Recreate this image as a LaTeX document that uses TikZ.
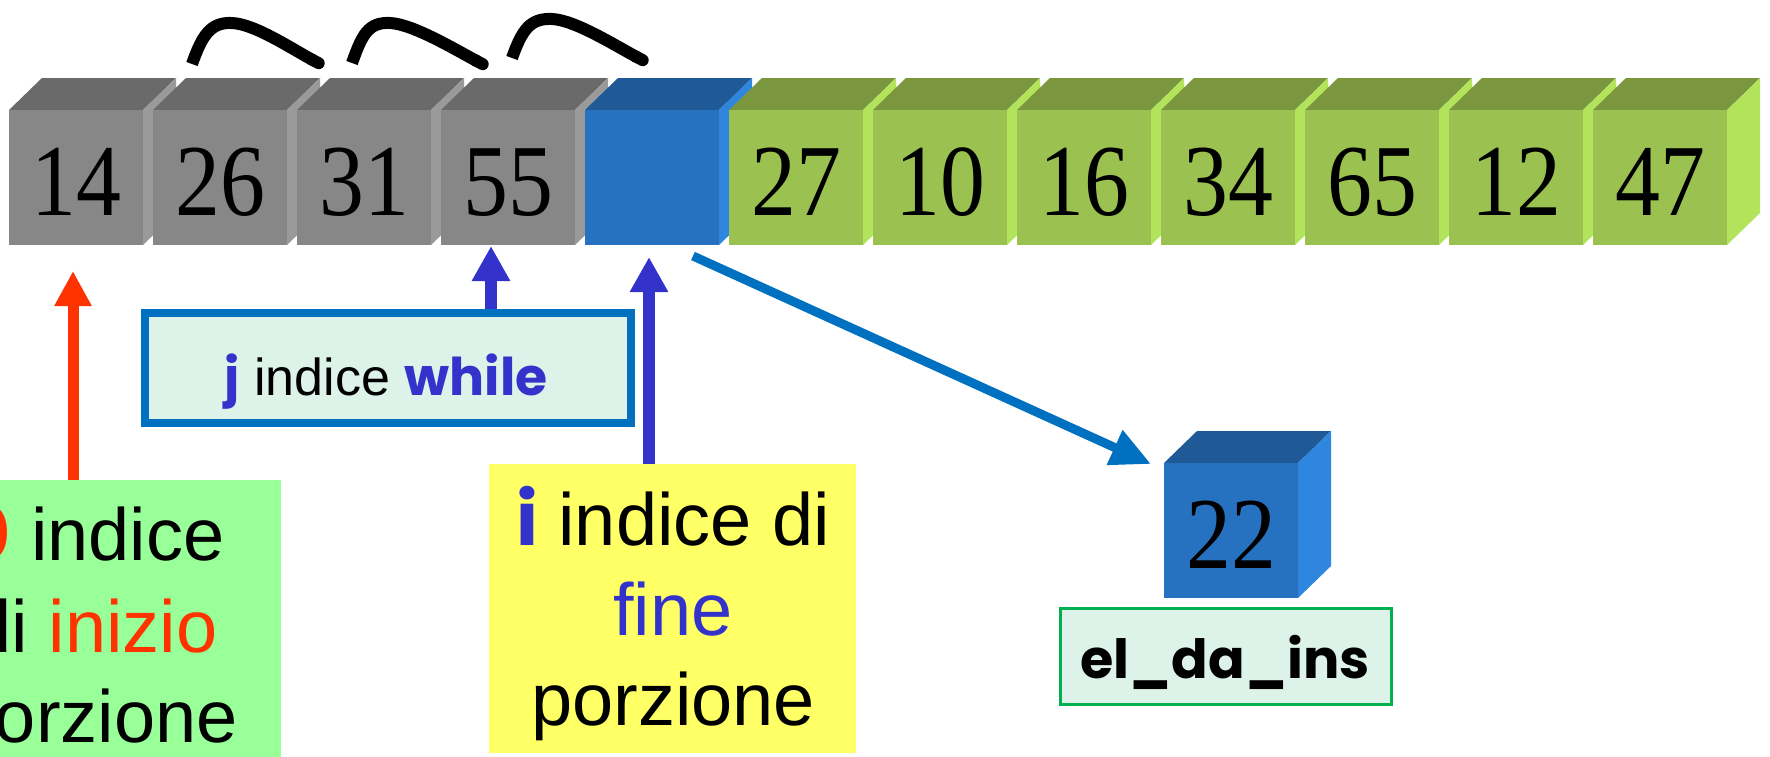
\documentclass[tikz,border=0pt]{standalone}
\usepackage{fontspec}
\setmainfont{Liberation Sans}
\newfontfamily\numfont{Liberation Serif}
\newfontfamily\comicf{Poppins}
\usetikzlibrary{arrows.meta}
\definecolor{grayF}{HTML}{878787}
\definecolor{grayT}{HTML}{6A6A6A}
\definecolor{grayS}{HTML}{9A9A9A}
\definecolor{blueF}{HTML}{2772C0}
\definecolor{blueT}{HTML}{1F5A96}
\definecolor{blueS}{HTML}{2E86DE}
\definecolor{greenF}{HTML}{9BC250}
\definecolor{greenT}{HTML}{7A963E}
\definecolor{greenS}{HTML}{B3E35A}
\definecolor{jblue}{HTML}{3333CC}
\definecolor{redarr}{HTML}{FF3300}
\definecolor{linkblue}{HTML}{0070C0}
\definecolor{mint}{HTML}{DDF2E8}
\definecolor{lgreen}{HTML}{99FF99}
\definecolor{lyellow}{HTML}{FFFF66}
\definecolor{boxgreen}{HTML}{00B050}
\newcommand\mycube[5]{%
  \fill[#3T] (#1,#2) -- ++(33,-32) -- ++(134,0) -- ++(-33,32) -- cycle;
  \fill[#3S] ({#1+134},#2) -- ++(33,-32) -- ++(0,135) -- ++(-33,32) -- cycle;
  \fill[#3F] (#1,#2) rectangle ++(134,135);
  \node[num] (#4) at ({#1+67},{#2+105}) {\scalebox{0.88}[1]{#5}};
}
\begin{document}
\begin{tikzpicture}[x=0.5pt,y=-0.5pt,
  num/.style={inner sep=0pt, anchor=base, font=\numfont\fontsize{51}{51}\selectfont},
  lbl/.style={inner sep=0pt, anchor=base, font=\fontsize{37}{37}\selectfont},
  smalllbl/.style={inner sep=0pt, anchor=base, font=\fontsize{26}{26}\selectfont},
  arcline/.style={line width=6pt, line cap=butt, -{Round Cap[]}},
  upred/.style={redarr, line width=5.5pt, -{Triangle[length=17.5pt,width=17.5pt]}},
  upblue/.style={jblue, line width=6pt, -{Triangle[length=17.5pt,width=18pt]}},
  diag/.style={linkblue, line width=4.5pt, -{Triangle[length=20pt,width=18pt]}}]
\useasboundingbox (0,0) rectangle (1770,756);
\clip (0,0) rectangle (1770,756);
\fill[white] (0,0) rectangle (1770,756);
% boxes
\node[fill=lgreen, inner sep=0pt, minimum width=190.5pt, minimum height=160pt] (inizio) at (90.5,640) {};
\node[fill=lyellow, inner sep=0pt, minimum width=183.5pt, minimum height=144.5pt] (fine) at (672.5,608.5) {};
\node[draw=linkblue, line width=4pt, fill=mint, inner sep=0pt, minimum width=243pt, minimum height=55pt] (jbox) at (388,368) {};
\node[draw=boxgreen, line width=1.5pt, fill=mint, inner sep=0pt, minimum width=165.5pt, minimum height=48pt] (elbox) at (1226,656.5) {};
% cubes
\mycube{9}{110}{gray}{c1}{14}
\mycube{153}{110}{gray}{c2}{26}
\mycube{297}{110}{gray}{c3}{31}
\mycube{441}{110}{gray}{c4}{55}
\mycube{585}{110}{blue}{c5}{}
\mycube{729}{110}{green}{c6}{27}
\mycube{873}{110}{green}{c7}{10}
\mycube{1017}{110}{green}{c8}{16}
\mycube{1161}{110}{green}{c9}{34}
\mycube{1305}{110}{green}{c10}{65}
\mycube{1449}{110}{green}{c11}{12}
\mycube{1593}{110}{green}{c12}{47}
\mycube{1164}{463}{blue}{c22}{22}
% arcs
\coordinate (a1s) at (192,64); \coordinate (a1e) at (324,66);
\coordinate (a2s) at (352,63); \coordinate (a2e) at (488,67);
\coordinate (a3s) at (512,58); \coordinate (a3e) at (648,63);
\draw[arcline] (a1s) .. controls +(10,-28) and +(-22,-1) .. ++(40,-41) .. controls +(23,1) and +(-32,-17) .. (a1e);
\draw[arcline] (a2s) .. controls +(10,-28) and +(-22,-1) .. ++(38,-40) .. controls +(23,1) and +(-32,-17) .. (a2e);
\draw[arcline] (a3s) .. controls +(10,-28) and +(-22,-1) .. ++(40,-39) .. controls +(23,1) and +(-32,-17) .. (a3e);
% arrows
\coordinate (rt) at (73,271);
\coordinate (jt) at (491,246);
\coordinate (it) at (649,257);
\coordinate (ds) at (693,256);
\coordinate (dt) at (1151,464);
\draw[upred] (inizio.north -| rt) -- (rt);
\draw[upblue] (jbox.north -| jt) -- (jt);
\draw[upblue] (fine.north -| it) -- (it);
\draw[diag] (ds) -- (dt);
% texts
\node[lbl, anchor=base east] (g1) at (225,560) {{\comicf\bfseries\color{redarr}0} indice};
\node[lbl, anchor=base east] (g2) at (218,652) {di \textcolor{redarr}{inizio}};
\node[lbl, anchor=base east] (g3) at (238,742) {porzione};
\node[lbl] (y1) at (673,545) {{\comicf\bfseries\color{jblue}i} indice di};
\node[lbl] (y2) at (673,635) {\textcolor{jblue}{fine}};
\node[lbl] (y3) at (673,725) {porzione};
\node[smalllbl] (jt1) at (386,395) {{\comicf\bfseries\color{jblue}j} indice {\comicf\bfseries\color{jblue}while}};
\node[inner sep=0pt, anchor=base, font=\comicf\bfseries\fontsize{27}{27}\selectfont] (el) at (1225,678) {el\_da\_ins};
\end{tikzpicture}
\end{document}
